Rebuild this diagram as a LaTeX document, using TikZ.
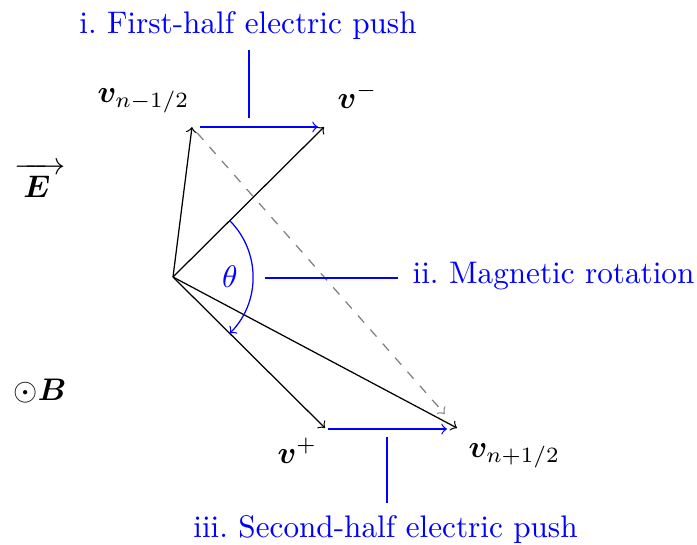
\documentclass[tikz,border=0pt]{standalone}
\usepackage{bm}
\begin{document}
\begin{tikzpicture}[x=0.3205pt,y=-0.3205pt,
  vec/.style={->,black},
  push/.style={->,blue},
  lead/.style={blue},
  bluelabel/.style={blue,inner sep=0pt},
  vlabel/.style={inner sep=0pt,anchor=base west}]
\useasboundingbox (0,0) rectangle (697,544);
% points
\coordinate (O) at (173,277);
\coordinate (Vm1) at (192,127);
\coordinate (Vminus) at (324,127);
\coordinate (Vplus) at (325,428);
\coordinate (Vp1) at (457,428);
% push arrow ends
\coordinate (P1a) at (200,127);
\coordinate (P1b) at (318,127);
\coordinate (P2a) at (328,429);
\coordinate (P2b) at (447,429);
% leader line ends
\coordinate (L1a) at (249,50);
\coordinate (L1b) at (249,118);
\coordinate (L2a) at (265,278);
\coordinate (L2b) at (398,278);
\coordinate (L3a) at (387,437);
\coordinate (L3b) at (387,503);
% vectors
\draw[vec] (O) -- (Vm1);
\draw[vec] (O) -- (Vminus);
\draw[vec] (O) -- (Vplus);
\draw[vec] (O) -- (Vp1);
\draw[->,gray,dashed,shorten <=2.5pt,shorten >=6pt] (Vm1) -- (Vp1);
\draw[push] (P1a) -- (P1b);
\draw[push] (P2a) -- (P2b);
\draw[->,blue] (O) ++(-44.8:80) arc[start angle=-44.8,end angle=44.8,radius=80];
% labels
\node[vlabel] (lvm1) at (97,102) {$\bm{v}_{n-1/2}$};
\node[vlabel] (lvminus) at (337,108) {$\bm{v}^{-}$};
\node[vlabel] (lvplus) at (277,463) {$\bm{v}^{+}$};
\node[vlabel] (lvp1) at (468,457) {$\bm{v}_{n+1/2}$};
\node[blue] (th) at (230,277) {$\theta$};
\node[inner sep=0pt,anchor=base west] (lE) at (14,197) {$\overrightarrow{\mkern5mu\bm{E}\mkern9mu\rule{0pt}{8.3pt}}$};
\node[inner sep=0pt,anchor=base west] (lB) at (13,400) {$\odot\bm{B}$};
\node[bluelabel,anchor=base] (t1) at (248,33) {i.\ First-half electric push};
\node[bluelabel,anchor=base west] (t2) at (412,283) {ii.\ Magnetic rotation};
\node[bluelabel,anchor=base] (t3) at (385.5,537) {iii.\ Second-half electric push};
% leaders
\draw[lead] (L1a) -- (L1b);
\draw[lead] (L2a) -- (L2b);
\draw[lead] (L3a) -- (L3b);
\end{tikzpicture}
\end{document}
